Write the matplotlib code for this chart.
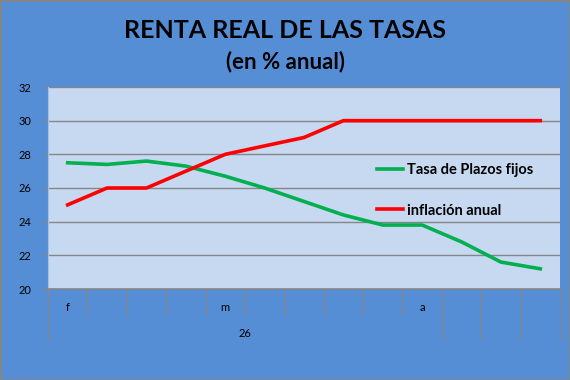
import numpy as np
import matplotlib
matplotlib.use("Agg")
import matplotlib.pyplot as plt
from matplotlib.patches import Rectangle

plt.rcParams['font.family'] = ['Lato', 'DejaVu Sans']

# datos (semanas, feb - may)
etiquetas = ["f", "", "", "", "m", "", "", "", "", "a", "", "", ""]
grupo = "26"
grupo_n = 10  # categorias que abarca el grupo "26"
plazos_fijos = [27.5, 27.4, 27.6, 27.3, 26.7, 26.0, 25.2, 24.4, 23.8, 23.8, 22.8, 21.6, 21.2]
inflacion = [25.0, 26.0, 26.0, 27.0, 28.0, 28.5, 29.0, 30.0, 30.0, 30.0, 30.0, 30.0, 30.0]
yticks = [20, 22, 24, 26, 28, 30, 32]

fondo = '#558ED5'
area = '#C6D9F1'
gris = '#868686'

fig = plt.figure(figsize=(5.7, 3.8), dpi=100, facecolor=fondo)
ax = fig.add_axes([48 / 570, 1 - 289 / 380, 512 / 570, 202 / 380])
ax.set_facecolor(area)

n = len(etiquetas)
x = np.arange(n)
ax.plot(x, plazos_fijos, color='#00B050', lw=2.6, label='Tasa de Plazos fijos', solid_joinstyle='round')
ax.plot(x, inflacion, color='#FF0000', lw=2.6, label='inflación anual', solid_joinstyle='round')

ax.set_xlim(-0.5, n - 0.5)
ax.set_ylim(20, 32)
ax.set_yticks(yticks)
ax.set_yticklabels([str(v) for v in yticks], fontsize=8)
ax.tick_params(axis='y', length=4, color=gris, pad=8)
ax.set_xticks([])
ax.grid(axis='y', color=gris, lw=1)
ax.set_axisbelow(True)
for s in ['top', 'right']:
    ax.spines[s].set_visible(False)
ax.spines['left'].set_color('#A6BFDF')
ax.spines['bottom'].set_color(gris)
ax.spines['bottom'].set_linewidth(1.2)

# ejes de categorias en dos niveles
tr = ax.get_xaxis_transform()
for i in range(n + 1):
    b = i - 0.5
    largo = -0.252 if (i == 0 or i >= grupo_n) else -0.129
    ax.plot([b, b], [0, largo], transform=tr, color=gris, lw=0.9, clip_on=False)
for i, lab in enumerate(etiquetas):
    if lab:
        ax.text(i, -0.09, lab, transform=tr, ha='center', va='center', fontsize=8)
ax.text((grupo_n - 1) / 2, -0.22, grupo, transform=tr, ha='center', va='center', fontsize=8)

leg = ax.legend(loc='center left', bbox_to_anchor=(0.617, 0.488), frameon=False,
                prop={'weight': 'bold', 'size': 10.5}, handlelength=1.8,
                labelspacing=1.8, handletextpad=0.25)

fig.text(0.5, 1 - 31 / 380, 'RENTA REAL DE LAS TASAS', ha='center', va='center',
         fontsize=18, fontweight='bold')
fig.text(0.5, 1 - 62 / 380, '(en % anual)', ha='center', va='center',
         fontsize=16, fontweight='bold')

fig.patches.append(Rectangle((0, 0), 1, 1, transform=fig.transFigure, fill=False,
                             edgecolor=gris, lw=2))

fig.savefig('out.png', dpi=100, facecolor=fondo)
